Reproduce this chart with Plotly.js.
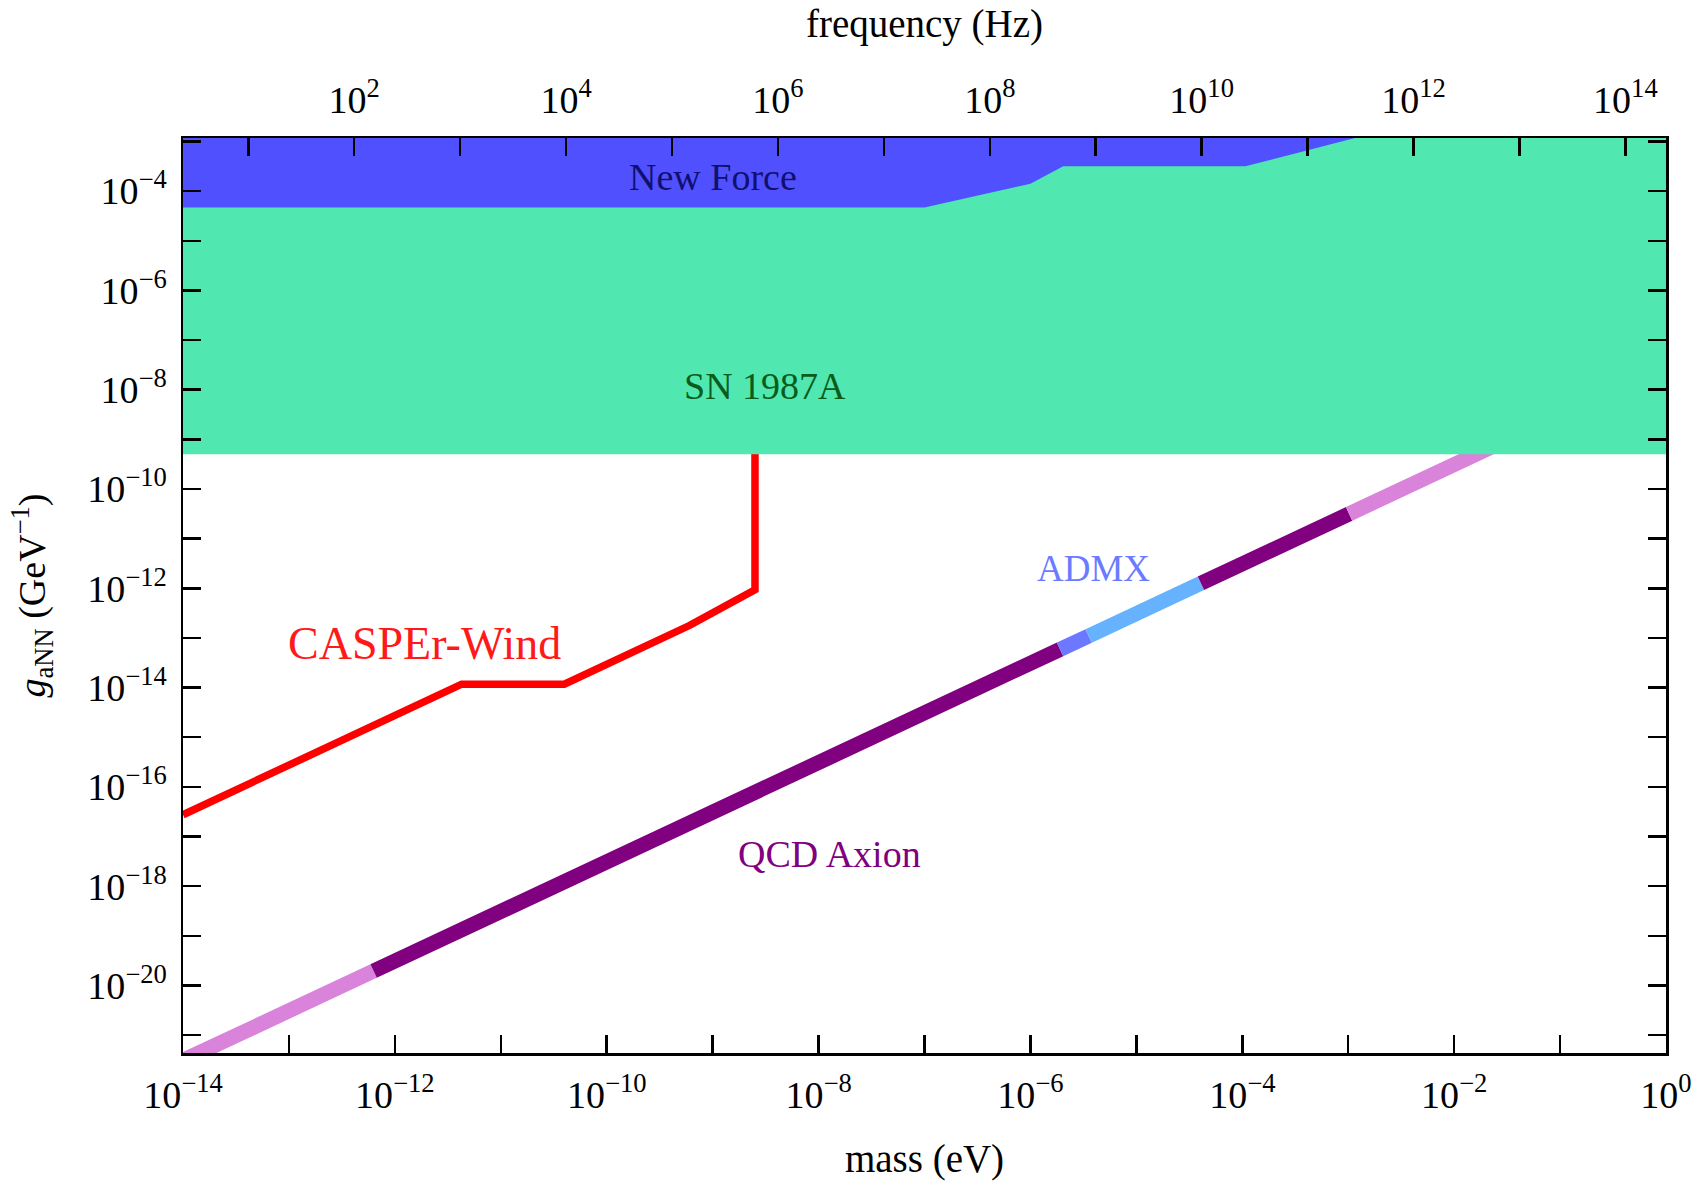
<!DOCTYPE html>
<html>
<head>
<meta charset="utf-8">
<script src="https://cdn.plot.ly/plotly-3.0.1.min.js"></script>
<style>
  html, body { margin: 0; padding: 0; background: #ffffff; }
  #chart { width: 1705px; height: 1181px; }
</style>
</head>
<body>
<div id="chart"></div>
<script>
// ---------------- data ----------------
const PLANCK_EV_S = 4.135667696e-15;          // eV·s, mass -> frequency
const massRangeExp = [-14, 0];                 // log10(mass / eV)
const gRangeExp = [-21.36, -2.93];             // log10(g / GeV^-1)

// CASPEr-Wind sensitivity curve
const casperMass = [1e-14, 4.27e-12, 3.98e-11, 6.03e-10, 2.51e-9, 2.51e-9];
const casperG    = [2.75e-17, 1.17e-14, 1.17e-14, 1.78e-13, 9.3e-13, 1e-2];

// SN 1987A excluded region (g above this bound)
const snMass = [1e-15, 10, 10, 1e-15];
const snG    = [5.0e-10, 5.0e-10, 1e-1, 1e-1];

// New Force excluded region (boundary, closed at the top)
const newForceMass = [1e-15, 1e-7, 1e-6, 2.04e-6, 1.07e-4, 3.16e-3, 3.16e-3, 1e-15];
const newForceG    = [4.68e-5, 4.68e-5, 1.41e-4, 3.16e-4, 3.16e-4, 2.04e-3, 1e-1, 1e-1];

// QCD axion band, break points between coloured segments
const qcdMass = [1e-14, 6.3e-13, 1.905e-6, 3.55e-6, 4.07e-5, 1.02e-3, 3.16e-2];
const qcdG    = [3.1e-22, 1.95e-20, 5.89e-14, 1.096e-13, 1.26e-12, 3.16e-11, 9.8e-10];

// ticks
const massTickVals   = [1e-14,1e-13,1e-12,1e-11,1e-10,1e-9,1e-8,1e-7,1e-6,1e-5,1e-4,1e-3,1e-2,1e-1,1];
const massTickLabels = ["10<sup>−14</sup>","","10<sup>−12</sup>","","10<sup>−10</sup>","","10<sup>−8</sup>","",
                        "10<sup>−6</sup>","","10<sup>−4</sup>","","10<sup>−2</sup>","","10<sup>0</sup>"];
const freqTickVals   = [1e1,1e2,1e3,1e4,1e5,1e6,1e7,1e8,1e9,1e10,1e11,1e12,1e13,1e14];
const freqTickLabels = ["","10<sup>2</sup>","","10<sup>4</sup>","","10<sup>6</sup>","","10<sup>8</sup>","",
                        "10<sup>10</sup>","","10<sup>12</sup>","","10<sup>14</sup>"];
const gTickVals   = [1e-21,1e-20,1e-19,1e-18,1e-17,1e-16,1e-15,1e-14,1e-13,1e-12,1e-11,1e-10,1e-9,1e-8,1e-7,1e-6,1e-5,1e-4,1e-3];
const gTickLabels = ["","10<sup>−20</sup>","","10<sup>−18</sup>","","10<sup>−16</sup>","","10<sup>−14</sup>","",
                     "10<sup>−12</sup>","","10<sup>−10</sup>","","10<sup>−8</sup>","","10<sup>−6</sup>","",
                     "10<sup>−4</sup>",""];

// ---------------- styles ----------------
const qcdSegmentColors = ["#da83da", "#800080", "#6b78ff", "#66b2ff", "#800080", "#da83da"];
const FONT = "Liberation Serif, Times New Roman, serif";

const traces = [];
for (let i = 0; i < qcdMass.length - 1; i++) {
  traces.push({
    x: [qcdMass[i], qcdMass[i + 1]], y: [qcdG[i], qcdG[i + 1]],
    mode: "lines", line: { color: qcdSegmentColors[i], width: 15 },
    hoverinfo: "skip", showlegend: false
  });
}
traces.push({
  x: casperMass, y: casperG, mode: "lines",
  line: { color: "#ff0000", width: 7.5 }, hoverinfo: "skip", showlegend: false
});
traces.push({
  x: snMass, y: snG, mode: "lines", fill: "toself",
  fillcolor: "#50e8b0", line: { width: 0, color: "#50e8b0" }, hoverinfo: "skip", showlegend: false
});
traces.push({
  x: newForceMass, y: newForceG, mode: "lines", fill: "toself",
  fillcolor: "#5050ff", line: { width: 0, color: "#5050ff" }, hoverinfo: "skip", showlegend: false
});
// carrier trace for the frequency axis
traces.push({
  x: [1e1, 1e14], y: [1e-10, 1e-10], xaxis: "x2", yaxis: "y",
  mode: "lines", line: { width: 0 }, opacity: 0, hoverinfo: "skip", showlegend: false
});

const axisCommon = {
  type: "log", showgrid: false, zeroline: false,
  showline: true, linecolor: "#000", linewidth: 2.5,
  ticks: "inside", ticklen: 18, tickwidth: 2.5, tickcolor: "#000",
  tickmode: "array", tickfont: { family: FONT, size: 38, color: "#000" }
};

const layout = {
  width: 1705, height: 1181,
  margin: { l: 183, r: 39, t: 138, b: 128 },
  paper_bgcolor: "#fff", plot_bgcolor: "#fff",
  font: { family: FONT, color: "#000" },
  xaxis: Object.assign({}, axisCommon, {
    range: massRangeExp, tickvals: massTickVals, ticktext: massTickLabels,
    mirror: false, ticklabelstandoff: 7,
    title: { text: "mass (eV)", font: { family: FONT, size: 39 }, standoff: 34 }
  }),
  xaxis2: Object.assign({}, axisCommon, {
    overlaying: "x", side: "top", anchor: "y",
    range: [Math.log10(1e-14 / PLANCK_EV_S), Math.log10(1 / PLANCK_EV_S)],
    tickvals: freqTickVals, ticktext: freqTickLabels, ticklabelstandoff: 7,
    title: { text: "frequency (Hz)", font: { family: FONT, size: 39 }, standoff: 24 }
  }),
  yaxis: Object.assign({}, axisCommon, {
    range: gRangeExp, tickvals: gTickVals, ticktext: gTickLabels,
    mirror: "ticks", ticklabelstandoff: 6,
    title: { text: "<i>g</i><sub>aNN</sub> (GeV<sup>−1</sup>)", font: { family: FONT, size: 38 }, standoff: 30 }
  }),
  annotations: [
    { x: -9.0, y: -3.72, text: "New Force", font: { family: FONT, size: 38, color: "#10106e" } },
    { x: -8.51, y: -7.92, text: "SN 1987A", font: { family: FONT, size: 38, color: "#0a5c1a" } },
    { x: -11.72, y: -13.12, text: "CASPEr-Wind", font: { family: FONT, size: 46, color: "#ff1a1a" } },
    { x: -5.40, y: -11.61, text: "ADMX", font: { family: FONT, size: 37, color: "#6b7bff" } },
    { x: -7.90, y: -17.35, text: "QCD Axion", font: { family: FONT, size: 38, color: "#800080" } }
  ].map(a => Object.assign({ xref: "x", yref: "y", showarrow: false, xanchor: "center", yanchor: "middle" }, a))
};

Plotly.newPlot("chart", traces, layout, { staticPlot: true, displayModeBar: false });
</script>
</body>
</html>
